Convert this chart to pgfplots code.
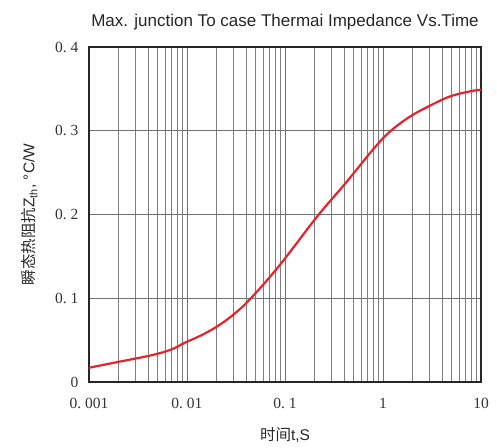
\documentclass[border=0pt]{standalone}
\usepackage{pgfplots}
\pgfplotsset{compat=1.18}
\usepackage{fontspec}
\setmainfont{Liberation Serif}
\newfontfamily\sansf{Liberation Sans}
\newfontfamily\cjk{Noto Sans CJK SC}
\usetikzlibrary{calc}
\definecolor{curvered}{HTML}{E8222B}
\definecolor{gridc}{HTML}{707070}
\begin{document}
\begin{tikzpicture}[x=1pt,y=1pt]
\begin{axis}[
  scale only axis,
  width=392pt, height=335pt,
  xmode=log,
  xmin=0.001, xmax=10,
  ymin=0, ymax=0.4,
  log basis x=10,
  xtick={0.001,0.01,0.1,1,10},
  xticklabels={0.\ 001,0.\ 01,0.\ 1,1,10},
  minor xtick={0.002,0.003,0.004,0.005,0.006,0.007,0.008,0.009,
               0.02,0.03,0.04,0.05,0.06,0.07,0.08,0.09,
               0.2,0.3,0.4,0.5,0.6,0.7,0.8,0.9,
               2,3,4,5,6,7,8,9},
  ytick={0,0.1,0.2,0.3,0.4},
  yticklabels={0,0.\ 1,0.\ 2,0.\ 3,0.\ 4},
  grid=both,
  major grid style={draw=gridc, line width=0.8pt},
  minor grid style={draw=gridc!90, line width=0.7pt},
  major tick length=0pt, minor tick length=0pt,
  axis line style={draw=black!85, line width=1.5pt},
  tick label style={font=\fontsize{15.5}{17}\selectfont, text=black!80},
  xticklabel style={yshift=-13pt},
  yticklabel style={xshift=-7pt},
  title={\sansf\fontsize{17}{19}\selectfont Max. junction To case Thermai Impedance Vs.Time},
  title style={yshift=7pt, text=black!85},
  xlabel={\cjk\fontsize{15.5}{17}\selectfont 时间\sansf t,S},
  ylabel={\cjk\fontsize{15.5}{17}\selectfont 瞬态热阻抗\sansf Z\textsubscript{th}, °C/W},
  xlabel style={text=black!85, yshift=-12pt},
  ylabel style={text=black!85, yshift=11pt},
]
\addplot[curvered, line width=2.2pt, smooth, tension=0.6] coordinates {
(0.001,0.017)
(0.00199,0.024)
(0.00436,0.032)
(0.00698,0.039)
(0.00955,0.047)
(0.0141,0.056)
(0.0207,0.067)
(0.0309,0.082)
(0.0457,0.101)
(0.089,0.140)
(0.211,0.197)
(0.426,0.239)
(0.796,0.278)
(1.178,0.299)
(1.89,0.317)
(3.02,0.330)
(4.83,0.341)
(7.72,0.347)
(10,0.349)
};
\end{axis}
\pgfresetboundingbox
\path ($(current axis.south west)+(-89pt,-65pt)$) rectangle ($(current axis.north east)+(16pt,47pt)$);
\end{tikzpicture}
\end{document}
